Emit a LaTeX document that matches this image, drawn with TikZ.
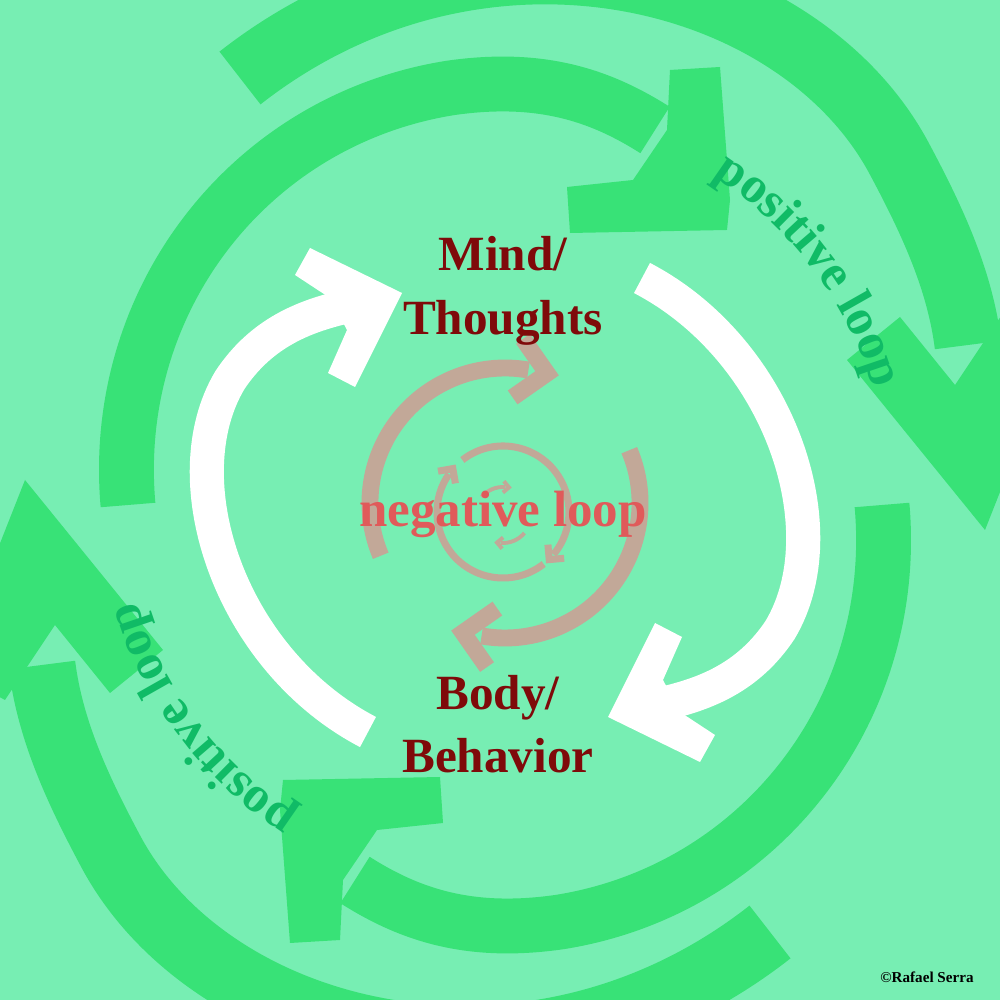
\documentclass[tikz,border=0pt]{standalone}
\usepackage{fontspec}
\setmainfont{Liberation Serif}
\usetikzlibrary{calc,decorations.text}
\definecolor{bg}{HTML}{77EEB3}
\definecolor{gr}{HTML}{38E277}
\definecolor{txtg}{HTML}{10BB66}
\definecolor{brn}{HTML}{C2A898}
\definecolor{neg}{HTML}{E05A5A}
\definecolor{dred}{HTML}{7F0A0A}
% cx cy xr yr start end width headlen color
\newcommand\looparc[9]{%
\begin{scope}[shift={(#1,#2)}]
\draw[draw=#9, line width=#7] (#5:#3 and #4) arc[start angle=#5, end angle=#6, x radius=#3, y radius=#4];
\draw[draw=#9, line width=#7, line join=miter] ($(#6:#3 and #4)+({#6-90}:{#8*0.45})+({#6+45}:#8)$) -- ($(#6:#3 and #4)+({#6-90}:{#8*0.45})$) -- ($(#6:#3 and #4)+({#6-90}:{#8*0.45})+({#6-225}:#8)$);
\end{scope}}
\newcommand\greenpart{%
 \draw[gr, line width=19pt] (240,78) .. controls (480,-110) and (800,-30) .. (900,160) .. controls (932,220) and (960,280) .. (968,345);
 \fill[gr] (847,360) -- (900,317) -- (955,385) -- (1005,310) -- (1060,340) -- (985,530) -- cycle;
 \draw[gr, line width=15.6pt] (128,505) .. controls (110,300) and (250,120) .. (450,88) .. controls (540,75) and (600,95) .. (655,130);
 \fill[gr] (670,70) -- (720,67) -- (730,200) -- (727,230) -- (570,233) -- (567,187) -- (633,180) -- (667,130) -- cycle;}
\newcommand\whitepart{%
 \draw[white, line width=9.7pt] (368,732) .. controls (230,660) and (170,480) .. (230,380) .. controls (260,335) and (300,318) .. (340,308);
 \fill[white] (310,248) -- (295,275) -- (330,298) -- (347,330) -- (328,373) -- (355,387) -- (402,293) -- cycle;}
\tikzset{lbl/.style={text=dred, font=\bfseries\fontsize{14}{15}\selectfont, align=center},
ploop/.style={decorate, decoration={text along path, text align=center,
 text={|\color{txtg}\bfseries\fontsize{14.5}{14.5}\selectfont|positive loop}}}}
\begin{document}
\begin{tikzpicture}[x=0.01cm,y=0.01cm]
\fill[bg] (0,0) rectangle (1000,1000);
\useasboundingbox (0,0) rectangle (1000,1000);
\begin{scope}[shift={(0,1000)}, yscale=-1]
 \greenpart
 \begin{scope}[rotate around={180:(505,505)}] \greenpart \end{scope}
 \whitepart
 \begin{scope}[rotate around={180:(505,505)}] \whitepart \end{scope}
\end{scope}
% brown
\looparc{505}{497}{135}{135}{203}{80}{4.8pt}{42}{brn}
\looparc{505}{497}{135}{135}{23}{-100}{4.8pt}{42}{brn}
\looparc{503}{488}{66}{66}{128}{-40}{2pt}{15}{brn}
\looparc{503}{488}{66}{66}{308}{145}{2pt}{15}{brn}
\looparc{503}{485}{28}{28}{140}{85}{1.1pt}{8}{brn}
\looparc{503}{485}{28}{28}{320}{265}{1.1pt}{8}{brn}
% texts
\node[lbl] (mind) at (503,709) {Mind/\\[3pt]Thoughts};
\node[lbl] (body) at (498,276) {Body/\\[3pt]Behavior};
\node[text=neg, font=\bfseries\fontsize{14.5}{15}\selectfont] (neg) at (503,486) {negative loop};
\path[ploop] (505,500) ++(62:385) arc[start angle=62, end angle=12, radius=385];
\path[ploop] (505,510) ++(242:385) arc[start angle=242, end angle=192, radius=385];
\node[font=\bfseries\fontsize{4.3}{5}\selectfont] (copy) at (927,23) {©Rafael Serra};
\end{tikzpicture}
\end{document}
